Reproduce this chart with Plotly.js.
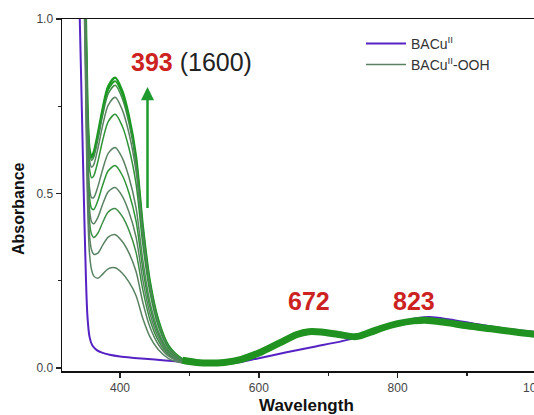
<!DOCTYPE html>
<html>
<head>
<meta charset="utf-8">
<script src="https://cdn.plot.ly/plotly-3.0.1.min.js"></script>
<style>
  html, body { margin: 0; padding: 0; overflow: hidden; background: #fff; }
  #chart { width: 560px; height: 415px; }
</style>
</head>
<body>
<div id="chart"></div>
<script>
// UV-vis spectra: BACu(II) and its conversion to BACu(II)-OOH

// BACu(II) starting complex
const wlCu = [338, 342, 345, 348, 351, 353, 356, 360, 366, 374, 385, 400, 420, 450, 480, 510, 540, 565,
              600, 640, 680, 720, 745, 780, 815, 845, 875, 910, 950, 1000];
const absCu = [1.30, 1.00, 0.74, 0.48, 0.25, 0.15, 0.09, 0.065, 0.052, 0.044, 0.038, 0.033, 0.029, 0.024,
               0.019, 0.014, 0.012, 0.014, 0.028, 0.045, 0.061, 0.077, 0.090, 0.114, 0.137, 0.146, 0.139,
               0.127, 0.114, 0.103];

// BACu(II)-OOH growth spectra, UV part (393 nm band)
const wlUV = [347, 350, 353, 356, 359, 362, 368, 375, 383, 393, 403, 413, 423, 433, 443, 455, 470, 490, 510];
const ooh01 = [1.419, 1.109, 0.759, 0.628, 0.608, 0.618, 0.671, 0.743, 0.807, 0.832, 0.795, 0.720, 0.606, 0.403, 0.248, 0.138, 0.063, 0.025, 0.012];
const ooh02 = [1.415, 1.104, 0.754, 0.623, 0.602, 0.612, 0.663, 0.735, 0.798, 0.822, 0.786, 0.712, 0.599, 0.398, 0.245, 0.136, 0.062, 0.025, 0.012];
const ooh03 = [1.410, 1.099, 0.748, 0.616, 0.595, 0.604, 0.654, 0.724, 0.786, 0.810, 0.774, 0.701, 0.590, 0.392, 0.242, 0.134, 0.061, 0.025, 0.012];
const ooh04 = [1.396, 1.083, 0.731, 0.598, 0.575, 0.582, 0.628, 0.695, 0.753, 0.776, 0.741, 0.672, 0.565, 0.376, 0.232, 0.129, 0.059, 0.024, 0.012];
const ooh05 = [1.377, 1.061, 0.706, 0.571, 0.545, 0.550, 0.591, 0.652, 0.706, 0.727, 0.694, 0.629, 0.529, 0.352, 0.218, 0.121, 0.056, 0.023, 0.011];
const ooh06 = [1.339, 1.019, 0.659, 0.518, 0.488, 0.488, 0.519, 0.569, 0.615, 0.632, 0.603, 0.546, 0.460, 0.307, 0.190, 0.107, 0.050, 0.021, 0.011];
const ooh07 = [1.318, 0.995, 0.633, 0.490, 0.457, 0.454, 0.479, 0.524, 0.565, 0.580, 0.553, 0.501, 0.422, 0.282, 0.175, 0.098, 0.046, 0.020, 0.011];
const ooh08 = [1.293, 0.967, 0.601, 0.455, 0.419, 0.413, 0.431, 0.469, 0.505, 0.517, 0.493, 0.446, 0.376, 0.251, 0.157, 0.089, 0.042, 0.019, 0.010];
const ooh09 = [1.269, 0.940, 0.571, 0.422, 0.383, 0.374, 0.386, 0.417, 0.447, 0.457, 0.435, 0.394, 0.332, 0.223, 0.139, 0.079, 0.038, 0.017, 0.010];
const ooh10 = [1.239, 0.906, 0.534, 0.381, 0.338, 0.326, 0.329, 0.352, 0.375, 0.382, 0.363, 0.329, 0.277, 0.187, 0.118, 0.068, 0.034, 0.016, 0.010];
const ooh11 = [1.201, 0.863, 0.486, 0.329, 0.281, 0.264, 0.257, 0.269, 0.284, 0.287, 0.272, 0.246, 0.208, 0.141, 0.090, 0.053, 0.027, 0.014, 0.009];
const oohSeries = [ooh01, ooh02, ooh03, ooh04, ooh05, ooh06, ooh07, ooh08, ooh09, ooh10, ooh11];

// Visible / NIR part, common to all BACu(II)-OOH spectra (672 and 823 nm bands)
const wlVis = [490, 510, 530, 550, 575, 600, 630, 655, 672, 690, 715, 740, 760, 780, 800, 823, 840, 870,
               900, 940, 970, 1000];
const absVis = [0.022, 0.016, 0.014, 0.016, 0.025, 0.043, 0.072, 0.096, 0.104, 0.103, 0.096, 0.090, 0.102,
                0.116, 0.127, 0.135, 0.137, 0.130, 0.121, 0.111, 0.103, 0.096];

// Axis ticks
const xTicks = [400, 600, 800, 1000];
const xTickText = ['400', '600', '800', '1000'];
const xMinor = [500, 700, 900];
const yTicks = [0, 0.5, 1.0];
const yTickText = ['0.0', '0.5', '1.0'];
const yMinor = [0.25, 0.75];

// Band labels
const bandWl = [672, 823];
const bandLabelY = 0.1925;
const uvBand = 393;
const uvEps = 1600;

const purple = '#5522c4';
const greenBright = '#1c9a22';
const greenGrey = '#5a8262';
const greenColors = [greenBright, greenBright, '#3c8d45', greenGrey, '#2f9438', greenGrey,
                     '#2f9438', greenGrey, '#3c8d45', greenGrey, greenGrey];
const greenWidths = [2.4, 1.8, 1.5, 1.5, 1.5, 1.5, 1.5, 1.5, 1.5, 1.5, 1.5];

const font = 'Arial, "Liberation Sans", sans-serif';

const traces = [];
traces.push({
  x: wlCu, y: absCu, type: 'scatter', mode: 'lines',
  name: 'BACu<sup>II</sup>',
  legendrank: 1,
  line: { color: purple, width: 2, shape: 'spline', smoothing: 0.8 },
  hoverinfo: 'skip'
});
oohSeries.forEach((s, i) => {
  traces.push({
    x: wlUV, y: s, type: 'scatter', mode: 'lines',
    name: 'BACu<sup>II</sup>-OOH',
    showlegend: i === 3,
    legendrank: 2,
    line: { color: greenColors[i], width: greenWidths[i], shape: 'spline', smoothing: 0.8 },
    hoverinfo: 'skip'
  });
});
traces.push({
  x: wlVis, y: absVis, type: 'scatter', mode: 'lines',
  showlegend: false,
  line: { color: '#1f921f', width: 7, shape: 'spline', smoothing: 0.9 },
  hoverinfo: 'skip'
});

const axisCommon = {
  ticks: 'outside', ticklen: 5, tickwidth: 1.4, tickcolor: '#222',
  showline: true, linecolor: '#111', linewidth: 1.5, mirror: true,
  showgrid: false, zeroline: false,
  tickfont: { family: font, size: 12, color: '#444' }
};

const layout = {
  width: 560, height: 415,
  margin: { l: 62, r: 0, t: 19, b: 44 },
  paper_bgcolor: '#fff', plot_bgcolor: '#fff',
  showlegend: true,
  legend: {
    x: 0.6004, y: 0.975, xanchor: 'left', yanchor: 'top',
    bgcolor: 'rgba(0,0,0,0)', borderwidth: 0,
    itemwidth: 40,
    font: { family: font, size: 14, color: '#333' },
    traceorder: 'normal'
  },
  xaxis: Object.assign({}, axisCommon, {
    range: [316.4, 1034.0],
    tickmode: 'array', tickvals: xTicks, ticktext: xTickText,
    minor: { tickmode: 'array', tickvals: xMinor, ticks: 'outside', ticklen: 3, tickcolor: '#222', showgrid: false }
  }),
  yaxis: Object.assign({}, axisCommon, {
    range: [-0.0086, 1.0],
    tickmode: 'array', tickvals: yTicks, ticktext: yTickText,
    minor: { tickmode: 'array', tickvals: yMinor, ticks: 'outside', ticklen: 3, tickcolor: '#222', showgrid: false }
  }),
  annotations: [
    {
      // x-axis title
      x: 668.7, y: -0.099, xref: 'x', yref: 'paper', xanchor: 'center', yanchor: 'middle',
      showarrow: false,
      text: '<b>Wavelength</b>', font: { family: font, size: 17, color: '#111' }
    },
    {
      // y-axis title
      x: -0.0884, y: 0.463, xref: 'paper', yref: 'paper', xanchor: 'center', yanchor: 'middle',
      showarrow: false, textangle: -90,
      text: '<b>Absorbance</b>', font: { family: font, size: 16, color: '#111' }
    },
    {
      x: 503, y: 0.876, xref: 'x', yref: 'y', showarrow: false,
      text: '<b><span style="color:#cc2222">' + uvBand + '</span></b> (' + uvEps + ')',
      font: { family: font, size: 25, color: '#222' }
    },
    {
      x: bandWl[0], y: bandLabelY, xref: 'x', yref: 'y', showarrow: false,
      text: '<b>' + bandWl[0] + '</b>', font: { family: font, size: 25, color: '#cc2222' }
    },
    {
      x: bandWl[1], y: bandLabelY, xref: 'x', yref: 'y', showarrow: false,
      text: '<b>' + bandWl[1] + '</b>', font: { family: font, size: 25, color: '#cc2222' }
    },
    {
      // growth arrow for the 393 nm band
      x: 439.6, y: 0.805, ax: 439.6, ay: 0.454,
      xref: 'x', yref: 'y', axref: 'x', ayref: 'y',
      text: '', showarrow: true, arrowhead: 2, arrowsize: 1.05, arrowwidth: 2.5,
      arrowcolor: '#1f9a2f'
    }
  ]
};

Plotly.newPlot('chart', traces, layout, { staticPlot: true, displayModeBar: false });
</script>
</body>
</html>
